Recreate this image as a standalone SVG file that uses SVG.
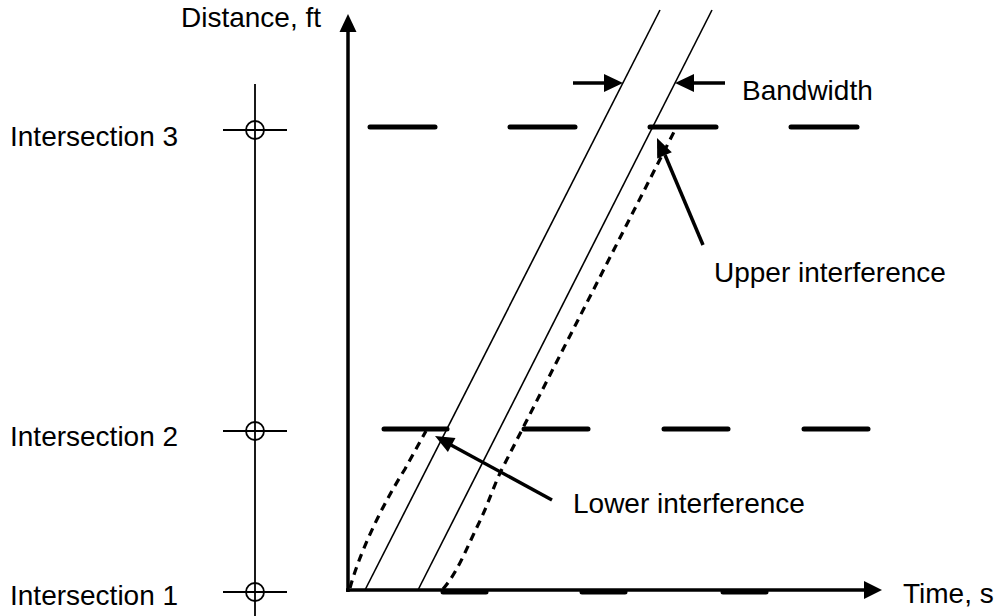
<svg xmlns="http://www.w3.org/2000/svg" width="998" height="616" viewBox="0 0 998 616">
<style>
text{font-family:"Liberation Sans",Arial,sans-serif;font-size:28px;fill:#000}
.ax{stroke:#000;stroke-width:3.5;fill:none}
.thin{stroke:#000;stroke-width:1.6;fill:none}
.red{stroke:#000;stroke-width:5;stroke-linecap:round;fill:none}
.dash{stroke:#000;stroke-width:3.2;stroke-dasharray:8 6;fill:none}
.ann{stroke:#000;stroke-width:3.5;fill:none}
.mk{stroke:#000;stroke-width:1.8;fill:none}
.head{fill:#000}
</style>
<g id="intersections">
<line class="mk" x1="255" y1="84" x2="255" y2="616"/>
<g id="int3"><line class="mk" x1="223" y1="130" x2="287" y2="130"/><circle class="mk" cx="255" cy="130" r="9"/><text x="10" y="146">Intersection 3</text></g>
<g id="int2"><line class="mk" x1="223" y1="431" x2="287" y2="431"/><circle class="mk" cx="255" cy="431" r="9"/><text x="10" y="446">Intersection 2</text></g>
<g id="int1"><line class="mk" x1="223" y1="592" x2="287" y2="592"/><circle class="mk" cx="255" cy="592" r="9"/><text x="10" y="605">Intersection 1</text></g>
</g>
<g id="axes">
<line class="ax" x1="348" y1="592" x2="348" y2="32"/>
<path class="head" d="M339.5,32 L348,14 L356.5,32 Z"/>
<line class="ax" x1="346" y1="590" x2="864" y2="590"/>
<path class="head" d="M864,581 L882,590 L864,599 Z"/>
<text x="181" y="27">Distance, ft</text>
<text x="903" y="603">Time, s</text>
</g>
<g id="signals">
<line class="red" x1="370" y1="127" x2="435" y2="127"/>
<line class="red" x1="510" y1="127" x2="575" y2="127"/>
<line class="red" x1="650" y1="127" x2="716" y2="127"/>
<line class="red" x1="791" y1="127" x2="857" y2="127"/>
<line class="red" x1="384" y1="429" x2="447" y2="429"/>
<line class="red" x1="524" y1="429" x2="588" y2="429"/>
<line class="red" x1="664" y1="429" x2="728" y2="429"/>
<line class="red" x1="804" y1="429" x2="868" y2="429"/>
<line class="red" x1="443" y1="592" x2="486" y2="592"/>
<line class="red" x1="582" y1="592" x2="625" y2="592"/>
<line class="red" x1="723" y1="592" x2="766" y2="592"/>
</g>
<g id="trajectories">
<line class="thin" x1="365" y1="590" x2="660" y2="10"/>
<line class="thin" x1="418" y1="590" x2="712" y2="10"/>
<path class="dash" d="M350,588 C358,558 378,512 405,469 L426,431"/>
<path class="dash" d="M443,589 C458,572 468,545 478,525 S495,482 503,467 L676,128"/>
</g>
<g id="connectors">
<line class="ann" x1="573" y1="83" x2="607" y2="83"/>
<path class="head" d="M604,74 L623,83 L604,92 Z"/>
<line class="ann" x1="725" y1="83" x2="692" y2="83"/>
<path class="head" d="M694,74 L675,83 L694,92 Z"/>
<line class="ann" x1="703" y1="245" x2="665" y2="155"/>
<path class="head" d="M657,138 L671.8,152.2 L657.2,158.6 Z"/>
<line class="ann" x1="552" y1="500" x2="451" y2="445"/>
<path class="head" d="M435,436 L455.5,438.1 L447.9,452.1 Z"/>
</g>
<g id="labels">
<text x="742" y="100">Bandwidth</text>
<text x="714" y="282">Upper interference</text>
<text x="573" y="513">Lower interference</text>
</g>
</svg>
